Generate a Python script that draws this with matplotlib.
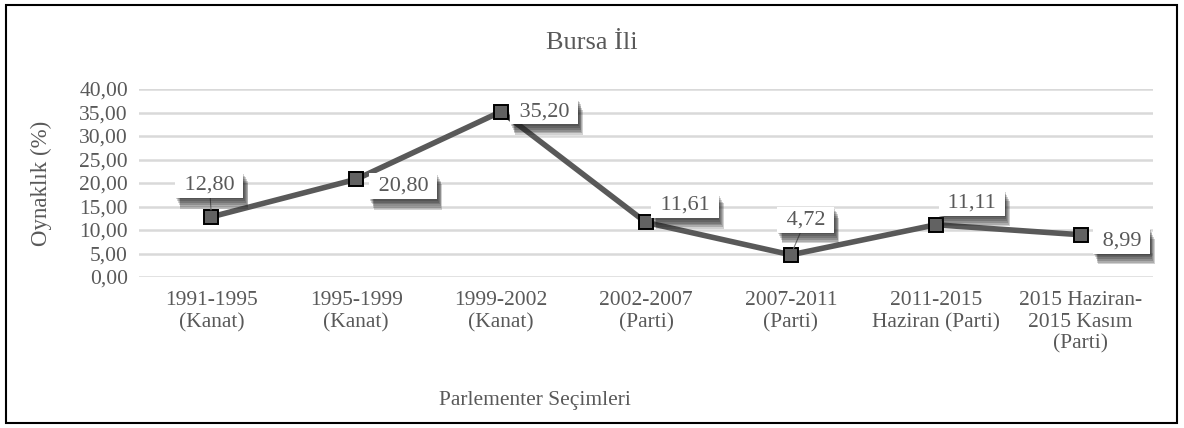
import matplotlib.pyplot as plt
import matplotlib.patheffects as pe
from matplotlib.patches import Rectangle

plt.rcParams['font.family'] = ['Liberation Serif', 'DejaVu Serif']

# seçim dönemleri ve oynaklık değerleri
donemler = ['1991-1995\n(Kanat)', '1995-1999\n(Kanat)', '1999-2002\n(Kanat)',
            '2002-2007\n(Parti)', '2007-2011\n(Parti)', '2011-2015\nHaziran (Parti)',
            '2015 Haziran-\n2015 Kasım\n(Parti)']
oynaklik = [12.80, 20.80, 35.20, 11.61, 4.72, 11.11, 8.99]
yticks = [0, 5, 10, 15, 20, 25, 30, 35, 40]

# etiket kaymaları (piksel)
etiket_kayma = [(-2, 32), (47, -7), (43, 0), (39, 17), (15, 35), (36, 22), (41, -6)]
cizgili = [True, False, False, False, True, False, False]

gri = '#595959'

fig = plt.figure(figsize=(11.84, 4.28), dpi=100)
ax = fig.add_axes([139 / 1184, 1 - 277 / 428, (1153 - 139) / 1184, (277 - 89) / 428])

x = list(range(len(oynaklik)))
ax.plot(x, oynaklik, color=gri, lw=4, marker='s', markersize=10.5,
        markerfacecolor='#626262', markeredgecolor='black', markeredgewidth=1.4, zorder=3)

# bulanık gölge için üst üste gölgeler
golge = [pe.SimplePatchShadow(offset=(0.6 * k, -1.3 * k), shadow_rgbFace='#1a1a1a', alpha=0.2)
         for k in range(6, 0, -1)]

for i, (xi, yi) in enumerate(zip(x, oynaklik)):
    dx, dy = etiket_kayma[i]
    ap = dict(arrowstyle='-', color='#7f7f7f', lw=0.8, shrinkA=0, shrinkB=5) if cizgili[i] else None
    etiket = ' ' + f'{yi:.2f}'.replace('.', ',') + ' '
    t = ax.annotate(etiket, (xi, yi), xytext=(dx, dy),
                    textcoords='offset pixels', ha='center', va='center',
                    fontsize=16, color=gri, zorder=5, arrowprops=ap,
                    bbox=dict(boxstyle='square,pad=0.15', fc='white', ec='none'))
    t.get_bbox_patch().set_path_effects(golge + [pe.Normal()])

ax.set_xlim(-0.5, len(oynaklik) - 0.5)
ax.set_ylim(0, 40)
ax.set_yticks(yticks)
ax.set_yticklabels([f'{v:.2f}'.replace('.', ',') for v in yticks])
ax.set_xticks(x)
ax.set_xticklabels(donemler, linespacing=1.2)
ax.tick_params(axis='both', length=0, labelsize=15.5, colors=gri)
ax.tick_params(axis='x', pad=10)
ax.tick_params(axis='y', pad=8)
ax.grid(axis='y', color='#d9d9d9', lw=1.8)
ax.set_axisbelow(True)
for s in ax.spines.values():
    s.set_visible(False)

ax.set_ylabel('Oynaklık (%)', fontsize=16.5, color=gri)
ax.yaxis.set_label_coords((52 - 139) / 1014, 0.5)
fig.text(592 / 1184, 1 - 43 / 428, 'Bursa İli', ha='center', va='center', fontsize=19, color=gri)
fig.text(535 / 1184, 1 - 401 / 428, 'Parlementer Seçimleri', ha='center', va='center',
         fontsize=15.5, color=gri)

fig.patches.append(Rectangle((6 / 1184, 5 / 428), 1171 / 1184, 418 / 428,
                             transform=fig.transFigure, fill=False, ec='black', lw=1.5))

fig.savefig('out.png', dpi=100)
